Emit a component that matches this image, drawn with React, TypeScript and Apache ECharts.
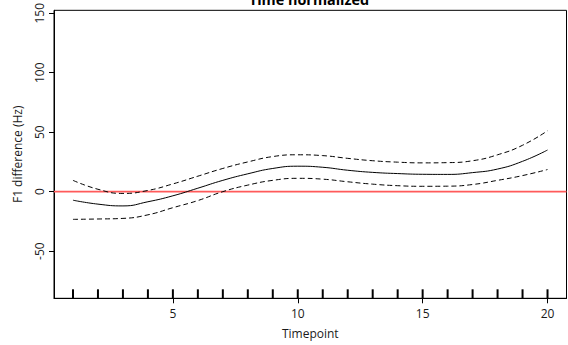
import React, { useEffect, useRef } from "react";
import * as echarts from "echarts";

const titleText = "Time normalized";
const xName = "Timepoint";
const yName = "F1 difference (Hz)";

const timepoints = [1, 2, 3, 4, 5, 6, 7, 8, 9, 10, 11, 12, 13, 14, 15, 16, 17, 18, 19, 20];
const fitted = [-7.2, -10.5, -12.0, -8.5, -3.5, 2.9, 9.5, 15.0, 19.5, 21.4, 20.5, 18.0, 16.2, 15.2, 14.6, 14.5, 16.0, 19.0, 25.5, 35.0];
const upperCI = [9.5, 2.0, -1.5, 1.0, 6.5, 13.0, 19.5, 25.0, 29.5, 31.0, 30.3, 28.0, 26.0, 24.8, 24.2, 24.4, 26.0, 31.0, 39.0, 51.2];
const lowerCI = [-23.3, -23.0, -22.5, -19.5, -13.5, -7.5, 0.0, 5.5, 9.5, 11.2, 10.5, 8.3, 6.3, 5.0, 4.5, 4.6, 6.0, 9.5, 13.5, 18.6];
const rugValues = [1, 2, 3, 4, 5, 6, 7, 8, 9, 10, 11, 12, 13, 14, 15, 16, 17, 18, 19, 20];
const xTicks = [5, 10, 15, 20];
const yTicks = [-50, 0, 50, 100, 150];
const refValue = 0;

const X_MIN = 0.24;
const X_MAX = 20.76;
const Y_MIN = -89.7;
const Y_MAX = 152.5;

const FONT = "Open Sans";
const TXT = "#1a1a1a";

export default function App() {
  const ref = useRef<HTMLDivElement>(null);
  useEffect(() => {
    if (!ref.current) return;
    const chart = echarts.init(ref.current, null, { renderer: "svg" });
    const pairs = (ys: number[]) => timepoints.map((t, i) => [t, ys[i]]);
    chart.setOption({
      animation: false,
      grid: {
        left: 54,
        right: 1.5,
        top: 7.7,
        bottom: 46.7,
        show: true,
        borderColor: "#000",
        borderWidth: 1,
        backgroundColor: "transparent",
      },
      graphic: [
        {
          type: "text",
          x: 309,
          y: -0.5,
          style: {
            text: titleText,
            font: `bold 14.4px "${FONT}"`,
            fill: "#000",
            textAlign: "center",
            textVerticalAlign: "middle",
          },
        },
      ],
      xAxis: {
        type: "value",
        min: X_MIN,
        max: X_MAX,
        name: xName,
        nameLocation: "middle",
        nameGap: 29,
        nameTextStyle: { fontFamily: FONT, fontSize: 12, color: TXT },
        axisLine: { show: true, onZero: false, lineStyle: { color: "#000", width: 1 } },
        axisTick: {
          show: true,
          inside: false,
          length: 5,
          customValues: xTicks,
          lineStyle: { color: "#000", width: 1 },
        },
        axisLabel: {
          customValues: xTicks,
          margin: 9,
          fontFamily: FONT,
          fontSize: 12,
          color: TXT,
        },
        splitLine: { show: false },
      },
      yAxis: {
        type: "value",
        min: Y_MIN,
        max: Y_MAX,
        name: yName,
        nameLocation: "middle",
        nameGap: 31,
        nameRotate: 90,
        nameTextStyle: { fontFamily: FONT, fontSize: 12, color: TXT },
        axisLine: { show: true, onZero: false, lineStyle: { color: "#000", width: 1 } },
        axisTick: {
          show: true,
          inside: false,
          length: 5,
          customValues: yTicks,
          lineStyle: { color: "#000", width: 1 },
        },
        axisLabel: {
          customValues: yTicks,
          rotate: 90,
          margin: 9,
          fontFamily: FONT,
          fontSize: 12,
          color: TXT,
        },
        splitLine: { show: false },
      },
      series: [
        {
          type: "line",
          data: [[X_MIN, refValue], [X_MAX, refValue]],
          showSymbol: false,
          silent: true,
          lineStyle: { color: "#ff5a5a", width: 1.6 },
          itemStyle: { color: "#ff5a5a" },
          z: 2,
        },
        {
          type: "line",
          data: pairs(fitted),
          showSymbol: false,
          smooth: true,
          lineStyle: { color: "#000", width: 1 },
          itemStyle: { color: "#000" },
          z: 3,
        },
        {
          type: "line",
          data: pairs(upperCI),
          showSymbol: false,
          smooth: true,
          lineStyle: { color: "#000", width: 1, type: [5, 3] },
          itemStyle: { color: "#000" },
          z: 3,
        },
        {
          type: "line",
          data: pairs(lowerCI),
          showSymbol: false,
          smooth: true,
          lineStyle: { color: "#000", width: 1, type: [5, 3] },
          itemStyle: { color: "#000" },
          z: 3,
        },
        {
          type: "custom",
          data: rugValues.map((v) => [v]),
          clip: false,
          renderItem: (_params: any, api: any) => {
            const p = api.coord([api.value(0), Y_MIN]);
            return {
              type: "line",
              shape: { x1: p[0], y1: p[1], x2: p[0], y2: p[1] - 9 },
              style: { stroke: "#000", lineWidth: 2 },
            };
          },
          z: 4,
        },
      ],
    });
    return () => chart.dispose();
  }, []);
  return (
    <div
      ref={ref}
      style={{ position: "fixed", left: 0, top: 0, width: 568, height: 345, background: "#fff" }}
    />
  );
}
